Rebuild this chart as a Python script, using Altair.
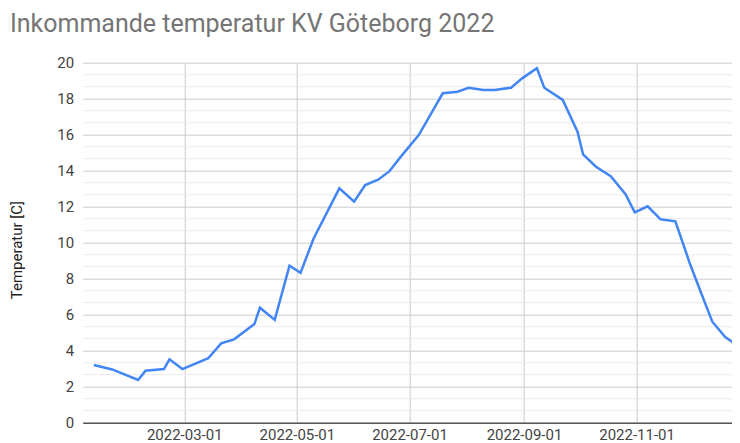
import altair as alt
import pandas as pd

dates = [
    "2022-01-11", "2022-01-21", "2022-02-04", "2022-02-08", "2022-02-18", "2022-02-21",
    "2022-02-28", "2022-03-14", "2022-03-21", "2022-03-28", "2022-04-08", "2022-04-11",
    "2022-04-19", "2022-04-27", "2022-05-03", "2022-05-10", "2022-05-24", "2022-06-01",
    "2022-06-07", "2022-06-14", "2022-06-20", "2022-06-26", "2022-07-06", "2022-07-13",
    "2022-07-19", "2022-07-27", "2022-08-02", "2022-08-10", "2022-08-16", "2022-08-25",
    "2022-08-31", "2022-09-08", "2022-09-12", "2022-09-22", "2022-09-30", "2022-10-03",
    "2022-10-10", "2022-10-18", "2022-10-26", "2022-10-31", "2022-11-07", "2022-11-14",
    "2022-11-22", "2022-11-30", "2022-12-06", "2022-12-12", "2022-12-19", "2022-12-27",
]
temps = [
    3.2, 2.96, 2.37, 2.89, 2.98, 3.52,
    2.98, 3.58, 4.41, 4.63, 5.48, 6.39,
    5.71, 8.72, 8.33, 10.22, 13.02, 12.28,
    13.2, 13.5, 13.96, 14.74, 15.98, 17.22,
    18.3, 18.39, 18.61, 18.48, 18.48, 18.61,
    19.13, 19.69, 18.61, 17.93, 16.17, 14.91,
    14.22, 13.7, 12.7, 11.69, 12.02, 11.3,
    11.19, 8.8, 7.19, 5.61, 4.76, 4.18,
]
y_ticks = [0, 2, 4, 6, 8, 10, 12, 14, 16, 18, 20]
minor_grid = [0.667, 1.333, 2.667, 3.333, 4.667, 5.333, 6.667, 7.333, 8.667, 9.333,
              10.667, 11.333, 12.667, 13.333, 14.667, 15.333, 16.667, 17.333, 18.667, 19.333]
x_tick_days = [(2022, 3, 1), (2022, 5, 1), (2022, 7, 1), (2022, 9, 1), (2022, 11, 1)]
x_domain = [(2022, 1, 5), (2022, 12, 27)]

FONT = "Roboto"

df = pd.DataFrame({"date": dates, "temp": temps})
grid_df = pd.DataFrame({"v": minor_grid})

y_scale = alt.Scale(domain=[0, 20], nice=False, zero=True)
x_scale = alt.Scale(
    type="utc",
    domain=[alt.DateTime(year=y, month=m, date=d, utc=True) for (y, m, d) in x_domain],
)


def y_axis():
    return alt.Axis(
        title="Temperatur [C]",
        values=y_ticks,
        grid=True,
        gridColor="#cccccc",
        ticks=False,
        domain=False,
        labelFont=FONT,
        labelFontSize=15,
        labelColor="#444444",
        labelPadding=9,
        titleFont=FONT,
        titleFontSize=15,
        titleFontWeight="normal",
        titleColor="#222222",
        titleX=-61,
        titleY=187,
        titleBaseline="alphabetic",
    )


minor = alt.Chart(grid_df).mark_rule(color="#ebebeb", strokeWidth=1).encode(
    y=alt.Y("v:Q", scale=y_scale, axis=y_axis(), title="Temperatur [C]")
)

line = alt.Chart(df).mark_line(color="#4285F4", strokeWidth=2.5, clip=True).encode(
    x=alt.X(
        "date:T",
        scale=x_scale,
        axis=alt.Axis(
            title=None,
            values=[alt.DateTime(year=y, month=m, date=d, utc=True) for (y, m, d) in x_tick_days],
            labelExpr="utcFormat(datum.value, '%Y-%m-%d')",
            grid=True,
            gridColor="#cccccc",
            ticks=False,
            domain=True,
            domainColor="#555555",
            domainWidth=1.5,
            labelFont=FONT,
            labelFontSize=15,
            labelColor="#444444",
            labelPadding=5,
            labelFlush=False,
            labelOverlap=False,
        ),
    ),
    y=alt.Y("temp:Q", scale=y_scale, axis=y_axis(), title="Temperatur [C]"),
)

chart = alt.layer(minor, line).properties(
    width=657.3,
    height=360,
    autosize=alt.AutoSizeParams(type="none"),
    padding={"left": 74.7, "top": 54.7, "right": -8, "bottom": 28},
    title=alt.TitleParams(
        "Inkommande temperatur KV Göteborg 2022",
        anchor="start",
        frame="group",
        dx=-72.7,
        dy=3,
        offset=2,
        baseline="alphabetic",
        font=FONT,
        fontSize=25,
        fontWeight="normal",
        color="#757575",
    ),
).configure_view(stroke=None)

chart.save("out.html", embed_options={"renderer": "svg", "actions": False})
